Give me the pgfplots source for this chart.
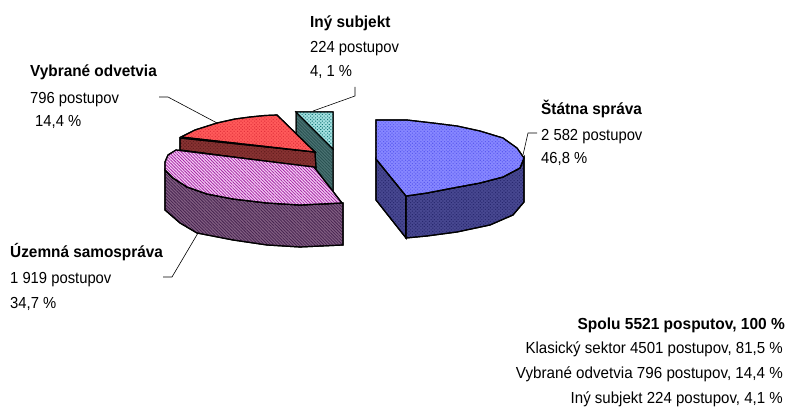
\documentclass[border=0pt]{standalone}
\usepackage{pgfplots}
\pgfplotsset{compat=1.18}
\usepackage{fontspec}
\setmainfont{Liberation Sans}
\usetikzlibrary{patterns.meta}
\definecolor{blueT}{RGB}{135,135,255}
\definecolor{blueTp}{RGB}{90,90,240}
\definecolor{blueS}{RGB}{72,72,145}
\definecolor{blueSp}{RGB}{40,40,110}
\definecolor{pinkT}{RGB}{245,205,245}
\definecolor{pinkTp}{RGB}{165,40,165}
\definecolor{pinkS}{RGB}{130,95,130}
\definecolor{pinkSp}{RGB}{70,35,80}
\definecolor{redT}{RGB}{255,90,90}
\definecolor{redTp}{RGB}{225,50,60}
\definecolor{redS}{RGB}{135,50,50}
\definecolor{redSp}{RGB}{100,30,30}
\definecolor{tealT}{RGB}{165,225,225}
\definecolor{tealTp}{RGB}{20,120,120}
\definecolor{tealS}{RGB}{75,115,115}
\definecolor{tealSp}{RGB}{40,80,80}
\tikzset{
 dotsl/.style={pattern={Dots[radius=0.75pt,distance=2.4pt,angle=45]},pattern color=#1},
 linesl/.style={pattern={Lines[angle=-45,distance=2.2pt,line width=0.8pt]},pattern color=#1},
 lab/.style={anchor=base west,inner sep=0pt,font=\fontsize{16}{16}\selectfont,xscale=0.925},
 labb/.style={anchor=base west,inner sep=0pt,font=\fontsize{16}{16}\selectfont\bfseries,xscale=0.96},
 labr/.style={anchor=base east,inner sep=0pt,font=\fontsize{16}{16}\selectfont,xscale=0.94},
}
\begin{document}
\begin{tikzpicture}
\begin{axis}[scale only axis,width=789pt,height=405pt,xmin=0,xmax=789,ymin=0,ymax=405,y dir=reverse,axis lines=none,clip=false]
\path (axis cs:0,0) (axis cs:789,405);
% teal
\addplot[draw=black,line width=1pt,fill=tealS,postaction={linesl=tealSp}] coordinates {(296,112)(333,149)(333,195)(296,160)} --cycle;
\addplot[draw=black,line width=1pt,fill=tealT,postaction={dotsl=tealTp}] coordinates {(296,112)(333,112)(333,149)} --cycle;
% red
\addplot[draw=black,line width=1.2pt,fill=redS,postaction={dotsl=redSp}] coordinates {(180,138)(315,152)(316,168)(180,150)} --cycle;
\addplot[draw=black,line width=1.2pt,fill=redT,postaction={dotsl=redTp}] coordinates {(181,137)(195,130)(217,123)(235,119)(250,117)(265,115.5)(277,115)(315,152)} --cycle;
% pink
\addplot[draw=black,line width=1.2pt,fill=pinkS,postaction={linesl=pinkSp}] coordinates {(165,170)(173,178)(187,187)(207,194)(233,199)(267,203)(300,205)(343,203)(343,245)(300,247)(267,245)(233,240)(197,233)(180,223)(165,210)} --cycle;
\addplot[draw=black,line width=1.2pt,fill=pinkT,postaction={linesl=pinkTp}] coordinates {(176,150)(168,155)(165,162)(165,170)(173,178)(187,187)(207,194)(233,199)(267,203)(300,205)(342,203)(314,167)} --cycle;
% blue
\addplot[draw=black,line width=1.2pt,fill=blueS,postaction={dotsl=blueSp}] coordinates {(376,159)(406,196)(406,238)(376,200)} --cycle;
\addplot[draw=black,line width=1.2pt,fill=blueS,postaction={dotsl=blueSp}] coordinates {(406,196)(427,193)(453,188)(480,183)(503,177)(520,168)(524,158)(524,202)(513,215)(490,225)(457,232)(427,236)(406,238)} --cycle;
\addplot[draw=black,line width=1.2pt,fill=blueT,postaction={dotsl=blueTp}] coordinates {(376,120)(407,120)(433,123)(457,126)(480,131)(503,138)(517,148)(524,158)(520,168)(503,177)(480,183)(453,188)(427,193)(406,196)(376,159)} --cycle;
% leaders
\addplot[black,line width=0.6pt] coordinates {(523,155)(528,133)(537,133)};
\addplot[black,line width=0.6pt] coordinates {(198,233)(172,277)(163,277)};
\addplot[black,line width=0.6pt] coordinates {(159,97)(168,97)(217,123)};
\addplot[black,line width=0.6pt] coordinates {(355,87)(355,96)(313,111)};
% labels
\node[labb] at (axis cs:310,28) {Iný subjekt};
\node[lab] at (axis cs:310,53) {224 postupov};
\node[lab] at (axis cs:310,77) {4, 1 \%};
\node[labb] at (axis cs:30,77) {Vybrané odvetvia};
\node[lab] at (axis cs:30,103) {796 postupov};
\node[lab] at (axis cs:35,127) {14,4 \%};
\node[labb] at (axis cs:541,114) {Štátna správa};
\node[lab] at (axis cs:541,140) {2 582 postupov};
\node[lab] at (axis cs:541,163) {46,8 \%};
\node[labb] at (axis cs:10,257) {Územná samospráva};
\node[lab] at (axis cs:10,283) {1 919 postupov};
\node[lab] at (axis cs:10,308) {34,7 \%};
\node[labr,font=\fontsize{16}{16}\selectfont\bfseries,xscale=1.03] at (axis cs:785,329) {Spolu 5521 posputov, 100 \%};
\node[labr] at (axis cs:783,353) {Klasický sektor 4501 postupov, 81,5 \%};
\node[labr,xscale=1.01] at (axis cs:783,378) {Vybrané odvetvia 796 postupov, 14,4 \%};
\node[labr] at (axis cs:783,403) {Iný subjekt 224 postupov, 4,1 \%};
\end{axis}
\end{tikzpicture}
\end{document}
